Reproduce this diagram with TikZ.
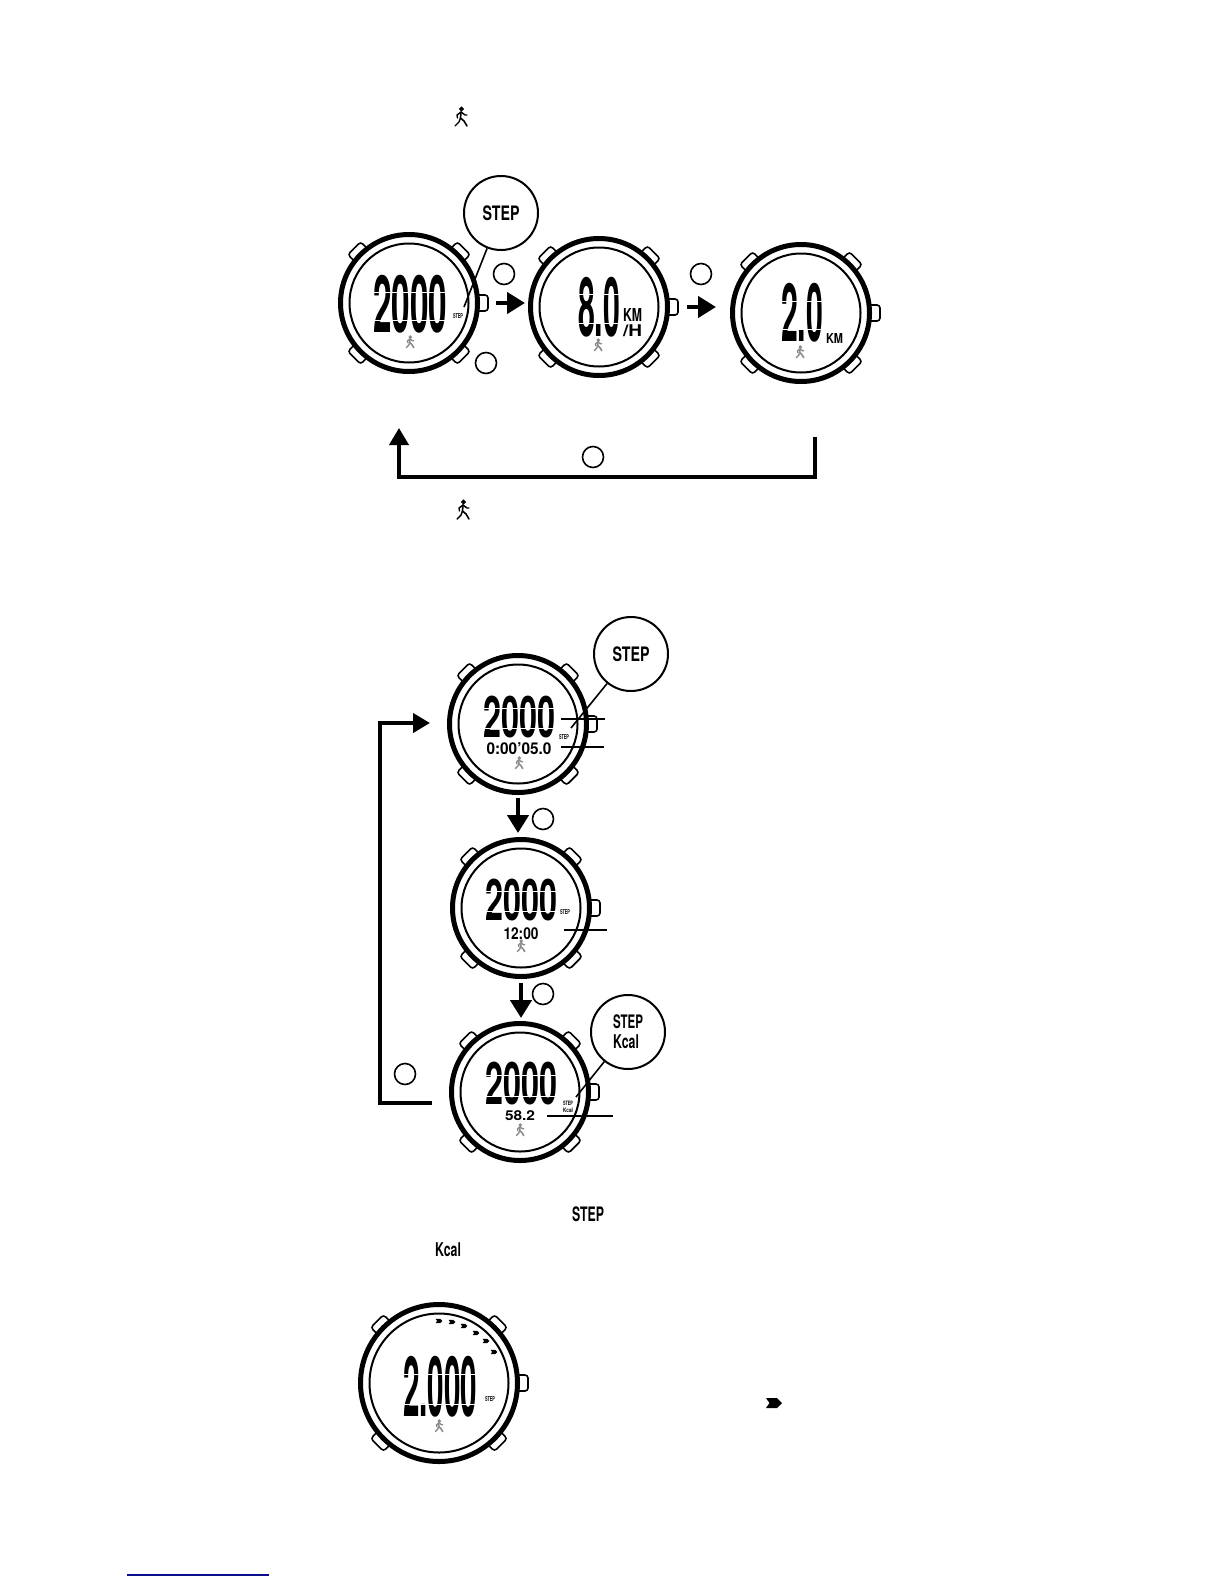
\documentclass[tikz,border=0pt]{standalone}
\usepackage{fontspec}
\usepackage{graphicx}
\usepackage{xcolor}
\setmainfont{TeX Gyre Heros}
\usetikzlibrary{arrows.meta, calc}
\definecolor{linkBlue}{RGB}{10,15,140}
\newdimen\pxu
\pxu=0.5pt
\newcommand{\lcdbox}[3]{\resizebox*{#1\pxu}{#2\pxu}{\bfseries #3}}
\newcommand{\watchbody}[3]{%
  \begin{scope}[shift={(#2)}]
    \foreach \a in {45,135,225,315} {
      \node[watchbtn, rotate=90-\a] (#1b\a) at (\a:#3+1) {};
    }
    \node[watchcrown] (#1crown) at (#3+1,0) {};
    \node[bezel, minimum size=(2*#3-5)*0.5pt] (#1) at (0,0) {};
    \node[face, minimum size=(2*#3-23)*0.5pt] (#1face) at (0,0) {};
  \end{scope}}
\newcommand{\lcdnum}[5]{%
  \node[lcd] (#1) at (#2) {\lcdbox{#3}{#4}{#5}};
  \draw[lcdgap] ($(#1.west)!0.55!(#1.south west)$) -- ($(#1.east)!0.55!(#1.south east)$);
  \draw[lcdgap] ($(#1.west)!0.4!(#1.north west)$) -- ($(#1.east)!0.4!(#1.north east)$);}
\tikzset{
  pics/walker/.style={code={
    \draw[line width=.55pt, fill=.] (0.5,-8) circle (1.8);
    \draw[line width=.7pt, line cap=round, line join=round] (-3.5,1) -- (-4,-2) -- (0,-5) -- (4,-2) -- (6,-2);
    \draw[line width=.8pt, line cap=round, line join=round] (0,-5) -- (-0.5,1) -- (3,4) -- (6,9);
    \draw[line width=.7pt, line cap=round, line join=round] (-0.5,1) -- (-2,5) -- (-6,9);
  }},
  pics/chevron/.style={code={
    \fill (-8,-5) -- (3,-5) -- (8,0) -- (3,5) -- (-8,5) -- (-4.5,0) -- cycle;
  }}
}
\begin{document}
\begin{tikzpicture}[
    x=0.5pt, y=-0.5pt,
    watchbtn/.style={rectangle, rounded corners=1.5pt, draw, fill=white, line width=.8pt, minimum width=9pt, minimum height=5.5pt, inner sep=0pt},
    watchcrown/.style={rectangle, rounded corners=1.5pt, draw, fill=white, line width=.8pt, minimum width=7pt, minimum height=8pt, inner sep=0pt},
    bezel/.style={circle, draw, fill=white, line width=2.5pt, inner sep=0pt},
    face/.style={circle, draw, line width=1pt, inner sep=0pt},
    callout/.style={circle, draw, line width=1pt, fill=white, minimum size=37pt, inner sep=0pt, align=left, font=\fontsize{10}{10}\selectfont},
    btnmark/.style={circle, draw, line width=.8pt, minimum size=10.5pt, inner sep=0pt},
    lcd/.style={inner sep=0pt},
    lcdgap/.style={white, line width=.4pt},
    tag/.style={inner sep=0pt, align=left, font=\fontsize{4}{3.5}\selectfont},
    leader/.style={line width=.8pt},
    bigarrow/.style={-{Triangle[length=9pt, width=10.5pt]}, line width=2.2pt},
    looparrow/.style={-{Triangle[length=8.5pt, width=9.5pt]}, line width=2pt},
    dimwalk/.style={black!45, scale=.62}
  ]
  \useasboundingbox (0,0) rectangle (1224,1584);

  \pic at (461,117) {walker};
  \pic at (463,510) {walker};

  \watchbody{w1}{409,303}{71}
  \watchbody{w2}{599,307}{71}
  \watchbody{w3}{801,313}{71}
  \watchbody{w4}{518,724}{71}
  \watchbody{w5}{521,908}{71}
  \watchbody{w6}{520,1092}{71}
  \watchbody{w7}{439,1383}{81}

  \lcdnum{t1}{410,304}{74}{58}{2000}
  \lcdnum{t2}{599,307}{42}{60}{8.0}
  \lcdnum{t3}{802,313}{42}{59}{2.0}
  \lcdnum{t4}{519,717}{72}{42}{2000}
  \lcdnum{t5}{521,900}{72}{42}{2000}
  \lcdnum{t6}{521,1084}{72}{43}{2000}
  \lcdnum{t7}{440,1387}{74}{61}{2.000}

  \node[lcd] (t4b) at (519,749) {\lcdbox{65}{12}{0:00'05.0}};
  \node[lcd] (t5b) at (521,934) {\lcdbox{35}{12}{12:00}};
  \node[lcd] (t6b) at (520,1116) {\lcdbox{30}{10}{58.2}};

  \node[lcd] (kmh1) at (632.5,315) {\lcdbox{19}{13}{KM}};
  \node[lcd] (kmh2) at (632.5,331) {\lcdbox{19}{12}{/H}};
  \node[lcd] (km3) at (834.5,338) {\lcdbox{17}{10}{KM}};

  \node[tag] (lab1) at (458,316) {\lcdbox{10}{5}{STEP}};
  \node[tag] (lab4) at (564,737) {\lcdbox{10}{5}{STEP}};
  \node[tag] (lab5) at (565,912) {\lcdbox{10}{5}{STEP}};
  \node[tag] (lab6) at (568,1107) {\lcdbox{10}{4.5}{STEP}\\\lcdbox{10}{4.5}{Kcal}};
  \node[tag] (lab7) at (490,1399) {\lcdbox{10}{5}{STEP}};

  \pic[dimwalk] at (410,342) {walker};
  \pic[dimwalk] at (598,345) {walker};
  \pic[dimwalk] at (800,352) {walker};
  \pic[dimwalk] at (519,763) {walker};
  \pic[dimwalk] at (521,946) {walker};
  \pic[dimwalk] at (520,1130) {walker};
  \pic[dimwalk] at (439,1426) {walker};

  \foreach \i/\cx/\cy in {1/439/1321, 2/452/1322, 3/464/1326, 4/476/1333, 5/486/1341, 6/494/1352} {
    \pic[scale=.42] at (\cx,\cy) {chevron};
  }
  \pic at (774,1403) {chevron};

  \node[callout] (call1) at (501,213) {\lcdbox{37}{15}{STEP}};
  \node[callout] (call4) at (631,654) {\lcdbox{37}{15}{STEP}};
  \node[callout] (call6) at (628,1032) {\lcdbox{30}{14}{STEP}\\\lcdbox{26}{14}{Kcal}};

  \coordinate (end1) at (464,307);
  \coordinate (end4) at (571,728);
  \coordinate (end6) at (576,1097);
  \draw[leader] (call1) -- (end1);
  \draw[leader] (call4) -- (end4);
  \draw[leader] (call6) -- (end6);

  \node[btnmark] (m1) at (504,274) {};
  \node[btnmark] (m2) at (486,363) {};
  \node[btnmark] (m3) at (701,274) {};
  \node[btnmark] (m4) at (593,457) {};
  \node[btnmark] (m5) at (543,819) {};
  \node[btnmark] (m6) at (543,994) {};
  \node[btnmark] (m7) at (405,1074) {};

  \draw[bigarrow, shorten <=8pt, shorten >=1.5pt] (w1.east) -- (w1.east -| w2.west);
  \draw[bigarrow, shorten <=8.5pt, shorten >=7pt] (w2.east) -- (w2.east -| w3.west);
  \draw[bigarrow, shorten <=1.5pt, shorten >=2pt] (w4.south) -- (w4.south |- w5.north);
  \draw[bigarrow, shorten <=2pt, shorten >=1.5pt] (w5.south) -- (w5.south |- w6.north);

  \coordinate (loopA) at (815,437);
  \coordinate (loopB) at (399,428);
  \coordinate (loopC) at (432,1103);
  \coordinate (loopD) at (430,723);
  \draw[looparrow] (loopA) -- ++(0,40) -| (loopB);
  \draw[looparrow] (loopC) -- ++(-52,0) |- (loopD);

  \coordinate (lead4a) at (561,719);
  \coordinate (lead4b) at (605,719);
  \coordinate (lead4c) at (561,747);
  \coordinate (lead4d) at (604,747);
  \coordinate (lead5a) at (564,930);
  \coordinate (lead5b) at (607,930);
  \coordinate (lead6a) at (547,1116);
  \coordinate (lead6b) at (613,1116);
  \draw[leader] (lead4a) -- (lead4b);
  \draw[leader] (lead4c) -- (lead4d);
  \draw[leader] (lead5a) -- (lead5b);
  \draw[leader] (lead6a) -- (lead6b);

  \node[lcd] (stepword) at (588,1214) {\lcdbox{32}{15}{STEP}};
  \node[lcd] (kcalword) at (448,1250) {\lcdbox{26}{14}{Kcal}};

  \coordinate (linkA) at (127,1575);
  \coordinate (linkB) at (269,1575);
  \draw[linkBlue, line width=.7pt] (linkA) -- (linkB);
\end{tikzpicture}
\end{document}
